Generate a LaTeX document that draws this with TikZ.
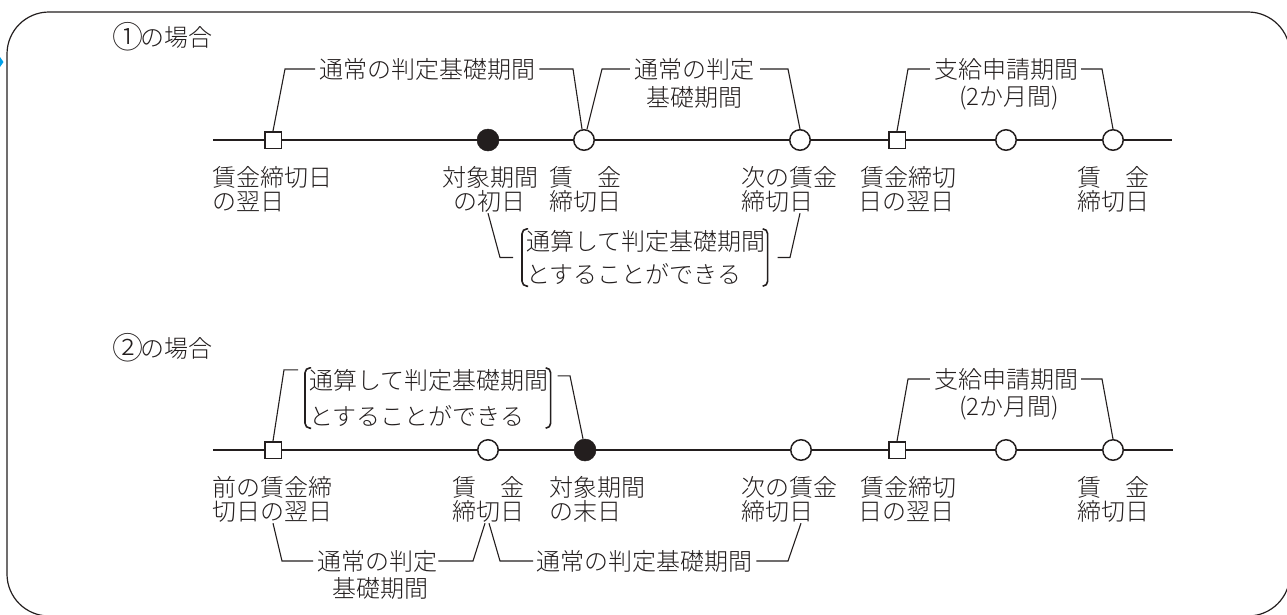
\documentclass[tikz,border=0pt]{standalone}
\usepackage{fontspec}
\newfontfamily\jpf{Noto Sans CJK JP}[UprightFont={* Light}]
\usetikzlibrary{calc}
\definecolor{ink}{RGB}{35,30,30}
\definecolor{bluemk}{RGB}{0,160,233}
\newcommand{\circnum}[1]{\raisebox{-2.5pt}{\fontsize{31}{31}\selectfont #1}\kern-3pt}
\begin{document}
\begin{tikzpicture}[x=1pt,y=-1pt,
  jt/.style={font=\jpf\fontsize{24}{24}\selectfont, text=ink, inner sep=0pt, text height=21pt, text depth=3pt},
  sq/.style={draw=ink, fill=white, rectangle, minimum size=16.5pt, inner sep=0pt, line width=1.5pt},
  oc/.style={draw=ink, fill=white, circle, minimum size=20.5pt, inner sep=0pt, line width=1.5pt},
  fc/.style={draw=ink, fill=ink, circle, minimum size=22pt, inner sep=0pt, line width=0.5pt},
  tl/.style={line width=1.2pt, draw=ink},
  br/.style={line width=1.1pt, draw=ink},
  paren/.style={line width=1.6pt, draw=ink, rounded corners=5pt}]
\useasboundingbox (0,0) rectangle (1287,614);
\clip (0,0) rectangle (1287,614);
\draw[line width=1.2pt, draw=ink, rounded corners=42pt] (7,12) rectangle (1290,616);
\fill[bluemk] (0,57) -- (3.5,62) -- (0,67) -- cycle;

% ---------------- section 1 ----------------
\node[jt, anchor=west] (t1) at (112,37) {\circnum{①}の場合};
\coordinate (t1s) at (213,140);
\coordinate (t1e) at (1172,140);
\node[sq] (m11) at (273,140) {};
\node[fc] (m12) at (488,140) {};
\node[oc] (m13) at (584,140) {};
\node[oc] (m14) at (800,140) {};
\node[sq] (m15) at (897,140) {};
\node[oc] (m16) at (1006,140) {};
\node[oc] (m17) at (1113,140) {};
\foreach \a/\b in {t1s/m11,m11/m12,m12/m13,m13/m14,m14/m15,m15/m16,m16/m17,m17/t1e}
  \draw[tl] (\a) -- (\b);

\node[jt, anchor=west] (l11a) at (212,177) {賃金締切日};
\node[jt, anchor=west] (l11b) at (212,201) {の翌日};
\node[jt] (l12a) at (490,177) {対象期間};
\node[jt] (l12b) at (489,201) {の初日};
\node[jt] (l13a) at (585,177) {賃　金};
\node[jt] (l13b) at (585,201) {締切日};
\node[jt, anchor=west] (l14a) at (741,177) {次の賃金};
\node[jt, anchor=west] (l14b) at (741,201) {締切日};
\node[jt] (l15a) at (908,177) {賃金締切};
\node[jt] (l15b) at (906,201) {日の翌日};
\node[jt] (l16a) at (1113,177) {賃　金};
\node[jt] (l16b) at (1113,201) {締切日};

\node[jt, anchor=west] (u11) at (319,69) {通常の判定基礎期間};
\node[jt] (u12a) at (694,69) {通常の判定};
\node[jt] (u12b) at (694,97) {基礎期間};
\node[jt] (u13a) at (1006,69) {支給申請期間};
\node[jt] (u13b) at (1009,96) {(2か月間)};

\draw[br] (m11.north) -- ([xshift=12pt]m11.north |- u11.west) -- ([xshift=-4pt]u11.west);
\draw[br] ([xshift=4pt]u11.east) -- ([xshift=-11pt]m13.north |- u11.east) -- ([xshift=-2pt]m13.north);
\draw[br] ([xshift=3pt]m13.north) -- ([xshift=18pt]m13.north |- u12a.west) -- ([xshift=-4pt]u12a.west);
\draw[br] ([xshift=6pt]u12a.east) -- ([xshift=-12pt]m14.north |- u12a.east) -- (m14.north);
\draw[br] (m15.north) -- ([xshift=11pt]m15.north |- u13a.west) -- ([xshift=-4pt]u13a.west);
\draw[br] ([xshift=3pt]u13a.east) -- ([xshift=-11pt]m17.north |- u13a.east) -- (m17.north);

\node[jt, anchor=west] (p1a) at (526,241) {通算して判定基礎期間};
\node[jt, anchor=west] (p1b) at (526,274) {とすることができる};
\draw[paren] ([xshift=2pt]p1a.north west) -| ([xshift=-4pt]p1b.south west) -- ([xshift=2pt]p1b.south west);
\draw[paren] ([xshift=-3pt]p1a.north east) -| ([xshift=2pt]p1a.east |- p1b.south) -- ([xshift=-3pt]p1a.east |- p1b.south);
\coordinate (p1m) at ($(p1a.west)!0.5!(p1b.west)$);
\draw[br] (m12 |- l12b.south) -- ([xshift=12pt]m12 |- p1m) -- ([xshift=-13pt]p1m);
\draw[br] ([xshift=12pt]p1a.east |- p1m) -- ([xshift=-10pt]m14 |- p1m) -- (m14 |- l14b.south);

% ---------------- section 2 ----------------
\node[jt, anchor=west] (t2) at (112,348) {\circnum{②}の場合};
\coordinate (t2s) at (213,450);
\coordinate (t2e) at (1173,450);
\node[sq] (m21) at (273,450) {};
\node[oc] (m22) at (488,450) {};
\node[fc] (m23) at (585,450) {};
\node[oc] (m24) at (801,450) {};
\node[sq] (m25) at (897,450) {};
\node[oc] (m26) at (1006,450) {};
\node[oc] (m27) at (1113,450) {};
\foreach \a/\b in {t2s/m21,m21/m22,m22/m23,m23/m24,m24/m25,m25/m26,m26/m27,m27/t2e}
  \draw[tl] (\a) -- (\b);

\node[jt, anchor=west] (l21a) at (212,487) {前の賃金締};
\node[jt, anchor=west] (l21b) at (212,511) {切日の翌日};
\node[jt] (l22a) at (488,487) {賃　金};
\node[jt] (l22b) at (488,511) {締切日};
\node[jt, anchor=west] (l23a) at (549,487) {対象期間};
\node[jt, anchor=west] (l23b) at (549,511) {の末日};
\node[jt, anchor=west] (l24a) at (741,487) {次の賃金};
\node[jt, anchor=west] (l24b) at (741,511) {締切日};
\node[jt] (l25a) at (908,487) {賃金締切};
\node[jt] (l25b) at (906,511) {日の翌日};
\node[jt] (l26a) at (1113,487) {賃　金};
\node[jt] (l26b) at (1113,511) {締切日};

\node[jt, anchor=west] (p2a) at (309,380) {通算して判定基礎期間};
\node[jt, anchor=west] (p2b) at (309,416) {とすることができる};
\draw[paren] ([xshift=2pt]p2a.north west) -| ([xshift=-4pt]p2b.south west) -- ([xshift=2pt]p2b.south west);
\draw[paren] ([xshift=-3pt]p2a.north east) -| ([xshift=2pt]p2a.east |- p2b.south) -- ([xshift=-3pt]p2a.east |- p2b.south);
\coordinate (p2l) at ([xshift=-11pt,yshift=-2pt]p2a.north west);
\coordinate (p2r) at ([xshift=9pt,yshift=-8pt]p2a.north east);
\draw[br] (m21.north) -- ([xshift=11pt]m21.north |- p2l) -- (p2l);
\draw[br] (p2r) -- ([xshift=-15pt]m23.north |- p2r) -- ([xshift=-2pt]m23.north);

\node[jt] (u23a) at (1006,379) {支給申請期間};
\node[jt] (u23b) at (1009,406) {(2か月間)};
\draw[br] (m25.north) -- ([xshift=11pt]m25.north |- u23a.west) -- ([xshift=-4pt]u23a.west);
\draw[br] ([xshift=3pt]u23a.east) -- ([xshift=-11pt]m27.north |- u23a.east) -- (m27.north);

\node[jt, anchor=west] (d21a) at (317,561) {通常の判定};
\node[jt] (d21b) at (380,588) {基礎期間};
\node[jt, anchor=west] (d22) at (536,561) {通常の判定基礎期間};
\draw[br] (m21 |- l21b.south) -- ([xshift=9pt]m21 |- d21a.west) -- ([xshift=-4pt]d21a.west);
\draw[br] ([xshift=1pt]d21a.east) -- ([xshift=-15pt]m22 |- d21a.east) -- ([xshift=-3pt]m22 |- l22b.south);
\draw[br] ([xshift=1pt]m22 |- l22b.south) -- ([xshift=12pt]m22 |- d22.west) -- ([xshift=-3pt]d22.west);
\draw[br] ([xshift=4pt]d22.east) -- ([xshift=-13pt]m24 |- d22.east) -- (m24 |- l24b.south);
\end{tikzpicture}
\end{document}
